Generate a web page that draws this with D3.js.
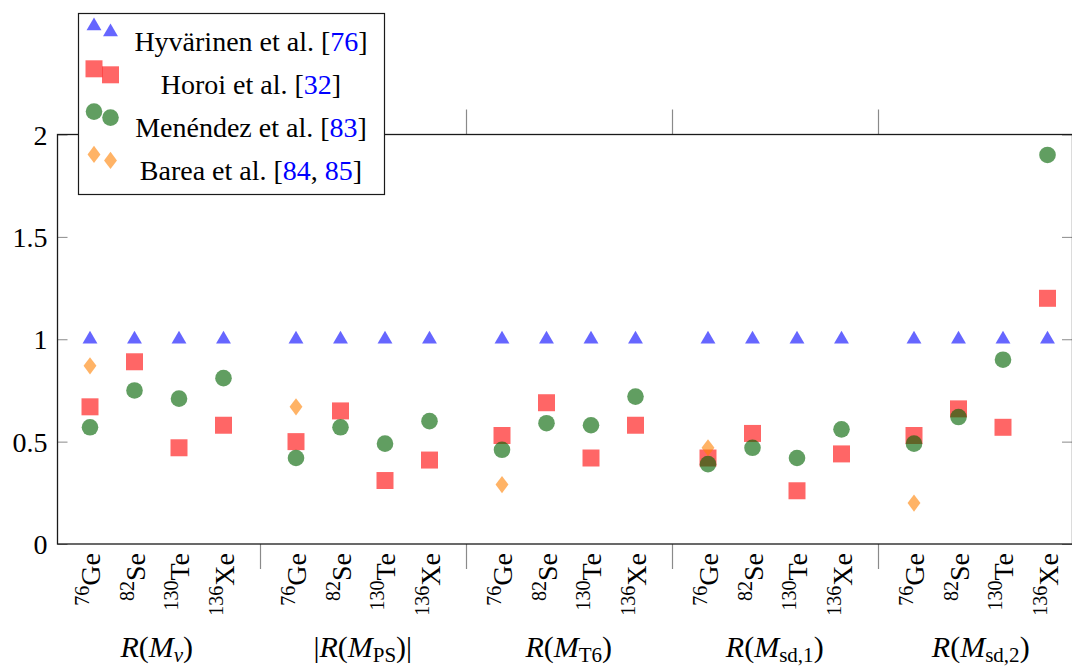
<!DOCTYPE html>
<html><head><meta charset="utf-8">
<script src="https://cdn.jsdelivr.net/npm/d3@7"></script>
<style>
html,body{margin:0;padding:0;background:#fff;}
svg{display:block;}
svg text{font-family:"Liberation Serif","DejaVu Serif","Noto Serif",serif;}
</style></head><body>
<svg id="chart" width="1072" height="670"></svg>
<script>
// ---------- data ----------
const groupSubs = ["ν", "PS", "T6", "sd,1", "sd,2"];
const groupSubItalic = [true, false, false, false, false];
const groupAbs = [false, true, false, false, false];
const nucleusMass = ["76", "82", "130", "136"];
const nucleusSymbol = ["Ge", "Se", "Te", "Xe"];
const yTicks = [0, 0.5, 1, 1.5, 2];
const yTickLabels = ["0", "0.5", "1", "1.5", "2"];

const seriesNames = ["Hyvärinen et al.", "Horoi et al.", "Menéndez et al.", "Barea et al."];
const seriesRefs = [["76"], ["32"], ["83"], ["84", "85"]];

const hyvarinen = [1, 1, 1, 1,  1, 1, 1, 1,  1, 1, 1, 1,  1, 1, 1, 1,  1, 1, 1, 1];
const horoi     = [0.67, 0.89, 0.47, 0.58,  0.50, 0.65, 0.31, 0.41,  0.53, 0.69, 0.42, 0.58,  0.42, 0.54, 0.26, 0.44,  0.53, 0.66, 0.57, 1.20];
const menendez  = [0.57, 0.75, 0.71, 0.81,  0.42, 0.57, 0.49, 0.60,  0.46, 0.59, 0.58, 0.72,  0.39, 0.47, 0.42, 0.56,  0.49, 0.62, 0.90, 1.90];
const barea     = [0.87, null, null, null,  0.67, null, null, null,  0.29, null, null, null,  0.47, null, null, null,  0.20, null, null, null];

const seriesValues = [hyvarinen, horoi, menendez, barea];
const seriesMarks = ["triangle", "square", "circle", "diamond"];
const seriesColors = ["rgb(0,0,255)", "rgb(255,0,0)", "rgb(0,98,0)", "rgb(255,128,0)"];
const seriesOpacity = [0.6, 0.6, 0.62, 0.6];

// ---------- layout ----------
const svg = d3.select("#chart");
const FONT = '"Liberation Serif","DejaVu Serif","Noto Serif",serif';
const FS = 28, SUB = 20;
const plotL = 57.5, plotR = 1072.5, plotT = 134.5, plotB = 544;

const y = d3.scaleLinear().domain([0, 2]).range([plotB, plotT]);
const gx = d3.scaleBand().domain(d3.range(groupSubs.length)).range([54, 1084]).padding(0);
const nx = d3.scalePoint().domain(nucleusSymbol).range([36, 169.5]);
const xPos = i => gx(Math.floor(i / 4)) + nx(nucleusSymbol[i % 4]);

// ticks
const yAxisL = d3.axisLeft(y).tickValues(yTicks).tickFormat((d, i) => yTickLabels[i]).tickSize(-10).tickPadding(10);
const gL = svg.append("g").attr("transform", `translate(${plotL},0)`).call(yAxisL).attr("font-family", FONT);
gL.select(".domain").remove();
gL.selectAll(".tick line").attr("stroke", "#8a8a8a").attr("stroke-width", 1);
gL.selectAll(".tick text").attr("font-size", FS).attr("fill", "#000").attr("dy", "0.34em");

const yAxisR = d3.axisRight(y).tickValues(yTicks).tickFormat("").tickSize(-10);
const gR = svg.append("g").attr("transform", `translate(${plotR - 0.5},0)`).call(yAxisR);
gR.select(".domain").remove();
gR.selectAll(".tick line").attr("stroke", "#8a8a8a").attr("stroke-width", 1);

// group separators (top and bottom)
const seps = d3.range(1, groupSubs.length).map(g => gx(g));
svg.append("g").selectAll("line").data(seps).join("line")
  .attr("x1", d => d + 0.5).attr("x2", d => d + 0.5).attr("y1", plotT - 25).attr("y2", plotT)
  .attr("stroke", "#8a8a8a").attr("stroke-width", 1.2);
svg.append("g").selectAll("line").data(seps).join("line")
  .attr("x1", d => d + 0.5).attr("x2", d => d + 0.5).attr("y1", plotB).attr("y2", plotB + 25)
  .attr("stroke", "#8a8a8a").attr("stroke-width", 1.2);

// frame
svg.append("rect").attr("x", plotL).attr("y", plotT).attr("width", plotR - plotL).attr("height", plotB - plotT)
  .attr("fill", "none").attr("stroke", "#1a1a1a").attr("stroke-width", 1.3);

// marker shapes
function markPath(type, r) {
  if (type === "triangle") {
    const h = r * Math.cos(Math.PI / 6);
    return `M0,${-r}L${h},${r / 2}L${-h},${r / 2}Z`;
  }
  if (type === "square") return `M${-r},${-r}H${r}V${r}H${-r}Z`;
  if (type === "diamond") { const w = r * 0.75; return `M0,${-r}L${w},0L0,${r}L${-w},0Z`; }
  return d3.arc()({innerRadius: 0, outerRadius: r, startAngle: 0, endAngle: 2 * Math.PI});
}
const markR = [8.6, 8.5, 8.3, 8.6];

// data marks
seriesValues.forEach((vals, s) => {
  const pts = vals.map((v, i) => ({i, v})).filter(d => d.v !== null);
  svg.append("g").selectAll("path").data(pts).join("path")
    .attr("d", markPath(seriesMarks[s], markR[s]))
    .attr("transform", d => `translate(${xPos(d.i)},${y(d.v)})`)
    .attr("fill", seriesColors[s]).attr("fill-opacity", seriesOpacity[s]);
});

// x tick labels (rotated)
const xl = svg.append("g").attr("font-family", FONT);
d3.range(20).forEach(i => {
  const t = xl.append("text")
    .attr("transform", `translate(${xPos(i)},553) rotate(-90)`)
    .attr("text-anchor", "end").attr("y", 10).attr("font-size", FS);
  t.append("tspan").attr("font-size", SUB).attr("dy", -11).text(nucleusMass[i % 4]);
  t.append("tspan").attr("dy", 11).text(nucleusSymbol[i % 4]);
});

// group labels
groupSubs.forEach((sub, g) => {
  const cx = gx(g) + (nx("Ge") + nx("Xe")) / 2;
  const t = svg.append("text").attr("x", cx).attr("y", 657).attr("text-anchor", "middle")
    .attr("font-size", 30).attr("font-family", FONT);
  if (groupAbs[g]) t.append("tspan").text("|");
  t.append("tspan").attr("font-style", "italic").text("R");
  t.append("tspan").text("(");
  t.append("tspan").attr("font-style", "italic").text("M");
  t.append("tspan").attr("font-size", 21).attr("dy", 5).attr("font-style", groupSubItalic[g] ? "italic" : "normal").text(sub);
  t.append("tspan").attr("dy", -5).text(")");
  if (groupAbs[g]) t.append("tspan").text("|");
});

// legend
const lg = svg.append("g").attr("font-family", FONT);
lg.append("rect").attr("x", 78.5).attr("y", 13.5).attr("width", 306).attr("height", 181)
  .attr("fill", "#fff").attr("stroke", "#1a1a1a").attr("stroke-width", 1.2);
seriesNames.forEach((name, s) => {
  const ry = 26 + 42.8 * s;
  [[94, 0], [110.5, 6]].forEach(([mx, dy]) => {
    lg.append("path").attr("d", markPath(seriesMarks[s], markR[s]))
      .attr("transform", `translate(${mx},${ry + dy})`)
      .attr("fill", seriesColors[s]).attr("fill-opacity", seriesOpacity[s]);
  });
  const t = lg.append("text").attr("x", 251).attr("y", 51 + 43 * s).attr("text-anchor", "middle").attr("font-size", 28);
  t.append("tspan").text(name + " [");
  seriesRefs[s].forEach((r, k) => {
    if (k > 0) t.append("tspan").text(", ");
    t.append("tspan").attr("fill", "#0000ff").text(r);
  });
  t.append("tspan").text("]");
});
</script>
</body></html>
